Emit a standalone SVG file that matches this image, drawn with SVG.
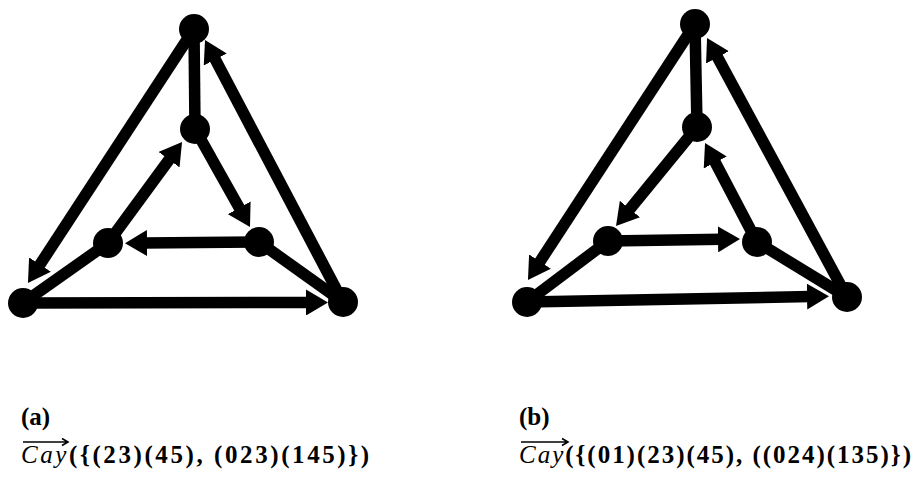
<svg xmlns="http://www.w3.org/2000/svg" width="924" height="477" viewBox="0 0 924 477">
<style>
.e{stroke:#000;stroke-width:11.5;fill:none}
.d{marker-end:url(#ah)}
.n{fill:#000}
.t{font-family:"Liberation Serif","Times New Roman",serif;font-size:25px;fill:#000}
.b{font-weight:bold}
.i{font-style:italic}
.ov{stroke:#000;stroke-width:1.6;fill:none}
</style>
<defs>
<marker id="ah" markerUnits="userSpaceOnUse" markerWidth="24" markerHeight="26" refX="4" refY="13" orient="auto" viewBox="0 0 24 26">
<path d="M0,0 L22,13 L0,26 z" fill="#000"/>
</marker>
</defs>
<g id="edges">
<line class="e d" x1="194" y1="29" x2="37.8" y2="267.9"/>
<line class="e d" x1="343" y1="302" x2="213.4" y2="55.9"/>
<line class="e d" x1="23" y1="303" x2="310" y2="302.5"/>
<line class="e" x1="194" y1="29" x2="195" y2="129"/>
<line class="e d" x1="195" y1="129" x2="241.2" y2="211.3"/>
<line class="e d" x1="259" y1="242" x2="143" y2="243"/>
<line class="e d" x1="108" y1="243" x2="171.4" y2="156.5"/>
<line class="e" x1="23" y1="303" x2="108" y2="243"/>
<line class="e" x1="343" y1="302" x2="259" y2="242"/>
<line class="e d" x1="695" y1="24" x2="537.8" y2="264.9"/>
<line class="e d" x1="847" y1="297" x2="715.6" y2="53.8"/>
<line class="e d" x1="527" y1="302" x2="811" y2="296.5"/>
<line class="e" x1="695" y1="24" x2="697" y2="127"/>
<line class="e d" x1="697" y1="127" x2="627.4" y2="212.1"/>
<line class="e d" x1="608" y1="241" x2="722" y2="239.3"/>
<line class="e d" x1="757" y1="242" x2="713.4" y2="158.9"/>
<line class="e" x1="527" y1="302" x2="608" y2="241"/>
<line class="e" x1="847" y1="297" x2="757" y2="242"/>
</g>
<g id="a-top"><circle class="n" cx="194" cy="29" r="15"/></g>
<g id="a-innertop"><circle class="n" cx="195" cy="129" r="15"/></g>
<g id="a-innerleft"><circle class="n" cx="108" cy="243" r="15"/></g>
<g id="a-innerright"><circle class="n" cx="259" cy="242" r="15"/></g>
<g id="a-bottomleft"><circle class="n" cx="23" cy="303" r="15"/></g>
<g id="a-bottomright"><circle class="n" cx="343" cy="302" r="15"/></g>
<g id="b-top"><circle class="n" cx="695" cy="24" r="15"/></g>
<g id="b-innertop"><circle class="n" cx="697" cy="127" r="15"/></g>
<g id="b-innerleft"><circle class="n" cx="608" cy="241" r="15"/></g>
<g id="b-innerright"><circle class="n" cx="757" cy="242" r="15"/></g>
<g id="b-bottomleft"><circle class="n" cx="527" cy="302" r="15"/></g>
<g id="b-bottomright"><circle class="n" cx="847" cy="297" r="15"/></g>
<g id="caption-a">
<text class="t b" x="21" y="425">(a)</text>
<path class="ov" d="M23,442 H68 M62,438.5 L68,442 L62,445.5"/>
<text class="t" x="21" y="463" textLength="348" lengthAdjust="spacing"><tspan class="i">Cay</tspan><tspan class="b">({(23)(45), (023)(145)})</tspan></text>
</g>
<g id="caption-b">
<text class="t b" x="519" y="425">(b)</text>
<path class="ov" d="M521,442 H568 M562,438.5 L568,442 L562,445.5"/>
<text class="t" x="519" y="463" textLength="392" lengthAdjust="spacing"><tspan class="i">Cay</tspan><tspan class="b">({(01)(23)(45), ((024)(135)})</tspan></text>
</g>
</svg>
